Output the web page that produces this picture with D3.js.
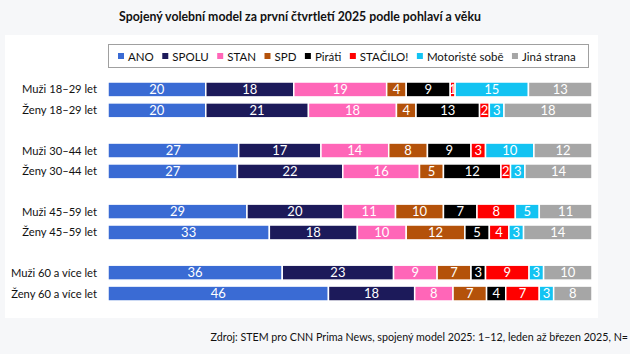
<!DOCTYPE html>
<html>
<head>
<meta charset="utf-8">
<style>
  body { margin: 0; background: #f6f7f9; }
  svg { display: block; font-family: Lato, "Open Sans", sans-serif; }
</style>
<script src="https://d3js.org/d3.v7.min.js"></script>
</head>
<body>
<svg width="630" height="354"></svg>
<script>
// data
var groups = ["18–29", "30–44", "45–59", "60+"];
var rows = ["Muži 18–29 let", "Ženy 18–29 let",
            "Muži 30–44 let", "Ženy 30–44 let",
            "Muži 45–59 let", "Ženy 45–59 let",
            "Muži 60 a více let", "Ženy 60 a více let"];
var parties = ["ANO", "SPOLU", "STAN", "SPD", "Piráti", "STAČILO!", "Motoristé sobě", "Jiná strana"];
var colors = ["#3a6bd4", "#1c1a5a", "#ff66b8", "#b4520a", "#000000", "#ff0000", "#13c3f2", "#a6a6a6"];
var values = [
  [20, 18, 19, 4, 9, 1, 15, 13],
  [20, 21, 18, 4, 13, 2, 3, 18],
  [27, 17, 14, 8, 9, 3, 10, 12],
  [27, 22, 16, 5, 12, 2, 3, 14],
  [29, 20, 11, 10, 7, 8, 5, 11],
  [33, 18, 10, 12, 5, 4, 3, 14],
  [36, 23, 9, 7, 3, 9, 3, 10],
  [46, 18, 8, 7, 4, 7, 3, 8]
];

var svg = d3.select("svg");

// white panel
svg.append("rect")
    .attr("x", 5).attr("y", 35)
    .attr("width", 593).attr("height", 283)
    .attr("fill", "#fff");

svg.append("text")
    .attr("x", 300).attr("y", 21)
    .attr("text-anchor", "middle")
    .style("font-size", "12.3px")
    .style("font-weight", "bold")
    .attr("fill", "#111")
    .text("Spojený volební model za první čtvrtletí 2025 podle pohlaví a věku");

// legend
var legend = svg.append("g");
legend.append("rect")
    .attr("x", 108.5).attr("y", 44.5)
    .attr("width", 480).attr("height", 23)
    .attr("fill", "#fff").attr("stroke", "#a0a0a0");

var lx = 118;
parties.forEach(function(p, i) {
  legend.append("rect")
      .attr("x", lx).attr("y", 53)
      .attr("width", 6).attr("height", 6)
      .attr("fill", colors[i]);
  var t = legend.append("text")
      .attr("x", lx + 10).attr("y", 60.5)
      .style("font-size", "11.5px")
      .attr("fill", "#111")
      .text(p);
  lx += 10 + t.node().getComputedTextLength() + 8.5;
});

// scales
var y0 = d3.scaleBand().domain(groups).range([82, 301]).paddingInner(0.413).paddingOuter(0);
var y1 = d3.scaleBand().domain([0, 1]).range([0, y0.bandwidth()]).paddingInner(0.2857);
var x = d3.scaleLinear().domain([0, 1]).range([108, 592]);

function rowY(r) { return y0(groups[Math.floor(r / 2)]) + y1(r % 2); }

var g = svg.append("g");

rows.forEach(function(name, r) {
  var total = d3.sum(values[r]);
  var cum = 0;
  var yy = rowY(r);
  var bh = y1.bandwidth();

  g.append("text")
      .attr("x", 97).attr("y", yy + bh / 2 + 4)
      .attr("text-anchor", "end")
      .style("font-size", "11.2px")
      .attr("fill", "#111")
      .text(name);

  values[r].forEach(function(v, i) {
    var a = cum / total, b = (cum + v) / total;
    cum += v;
    g.append("rect")
        .attr("x", x(a)).attr("y", yy)
        .attr("width", x(b) - x(a)).attr("height", bh)
        .attr("fill", colors[i])
        .attr("stroke", "#fff").attr("stroke-width", 1.5);
    g.append("text")
        .attr("x", (x(a) + x(b)) / 2).attr("y", yy + bh / 2 + 4.5)
        .attr("text-anchor", "middle")
        .style("font-size", "13px")
        .attr("fill", "#fff")
        .text(v);
  });
});

svg.append("text")
    .attr("x", 628).attr("y", 341)
    .attr("text-anchor", "end")
    .style("font-size", "10.7px")
    .attr("fill", "#111")
    .text("Zdroj: STEM pro CNN Prima News, spojený model 2025: 1–12, leden až březen 2025, N=");
</script>
</body>
</html>
